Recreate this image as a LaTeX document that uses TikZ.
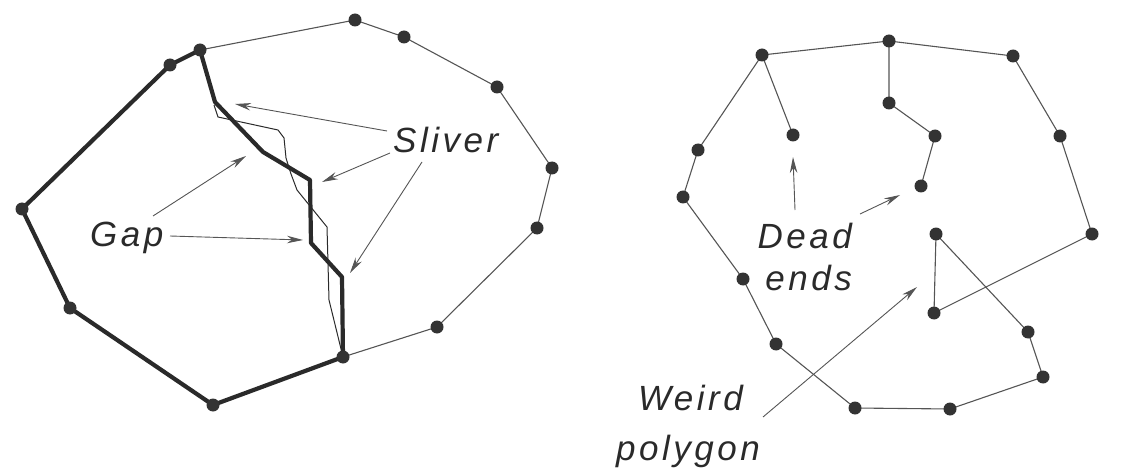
\documentclass[tikz,border=0pt]{standalone}
\usepackage{fontspec}
\setmainfont{Liberation Sans}
\newfontfamily\labelfont[LetterSpace=10]{Liberation Sans}
\usetikzlibrary{arrows.meta,backgrounds}
\definecolor{inkgray}{HTML}{2A2A2A}
\definecolor{dotgray}{HTML}{333333}
\definecolor{linegray}{HTML}{555555}
\definecolor{arrowgray}{HTML}{555555}
\begin{document}
\begin{tikzpicture}[x=1pt,y=-1pt,
  dot/.style={circle,fill=dotgray,inner sep=0pt,minimum size=13pt},
  thickline/.style={line width=4.2pt,draw=inkgray,line join=round,line cap=round},
  thinline/.style={line width=1.1pt,draw=linegray,line join=round},
  sliverline/.style={line width=1pt,draw=inkgray,line join=miter},
  ptr/.style={line width=0.9pt,draw=arrowgray,-{Stealth[length=16pt,width=7.5pt,fill=arrowgray]}},
  lbl/.style={font=\labelfont\itshape\fontsize{35}{42}\selectfont,text=inkgray,inner sep=0pt}
]
\useasboundingbox (0,0) rectangle (1124,473);

% ---------- left figure: dots ----------
\node[dot] (l1) at (170,65) {};
\node[dot] (l2) at (200,50) {};
\node[dot] (l3) at (355,20) {};
\node[dot] (l4) at (404,37) {};
\node[dot] (l5) at (497,87) {};
\node[dot] (l6) at (552,168) {};
\node[dot] (l7) at (537,228) {};
\node[dot] (l8) at (437,327) {};
\node[dot] (l9) at (343,357) {};
\node[dot] (l10) at (213,405) {};
\node[dot] (l11) at (70,308) {};
\node[dot] (l12) at (22,209) {};

% bend points of the thick boundary
\coordinate (k1) at (215,102);
\coordinate (k2) at (263,152);
\coordinate (k3) at (310,180);
\coordinate (k4) at (311,243);
\coordinate (k5) at (342,277);
% bend points of the thin (sliver) boundary
\coordinate (s0) at (214,105);
\coordinate (s1) at (218,117);
\coordinate (s2) at (278,130);
\coordinate (s3) at (284,138);
\coordinate (s4) at (286,158);
\coordinate (s5) at (291,174);
\coordinate (s6) at (297,190);
\coordinate (s7) at (327,227);
\coordinate (s8) at (329,300);

\begin{scope}[on background layer]
  \draw[thinline] (l2.center) -- (l3.center) -- (l4.center) -- (l5.center) -- (l6.center)
     -- (l7.center) -- (l8.center) -- (l9.center);
  \draw[sliverline] (s0) -- (s1) -- (s2) -- (s3) -- (s4) -- (s5) -- (s6) -- (s7) -- (s8) -- (l9.center);
  \draw[thickline] (l2.center) -- (k1) -- (k2) -- (k3) -- (k4) -- (k5) -- (l9.center)
     -- (l10.center) -- (l11.center) -- (l12.center) -- (l1.center) -- (l2.center);
\end{scope}

% labels
\node[lbl,anchor=base west] (sliver) at (393,153) {Sliver};
\node[lbl,anchor=base west] (gap) at (90,247) {Gap};

% arrows
\coordinate (sa1) at (387,131); \coordinate (st1) at (235,104);
\coordinate (sa2) at (390,153); \coordinate (st2) at (322,182);
\coordinate (sa3) at (422,162); \coordinate (st3) at (350,273);
\coordinate (ga1) at (153,216); \coordinate (gt1) at (246,156);
\coordinate (ga2) at (170,236); \coordinate (gt2) at (303,240);
\draw[ptr] (sa1) -- (st1);
\draw[ptr] (sa2) -- (st2);
\draw[ptr] (sa3) -- (st3);
\draw[ptr] (ga1) -- (gt1);
\draw[ptr] (ga2) -- (gt2);

% ---------- right figure ----------
\node[dot] (r1) at (683,197) {};
\node[dot] (r2) at (698,150) {};
\node[dot] (r3) at (762,55) {};
\node[dot] (r4) at (889,41) {};
\node[dot] (r5) at (1013,56) {};
\node[dot] (r6) at (1060,136) {};
\node[dot] (r7) at (1092,234) {};
\node[dot] (r8) at (934,313) {};
\node[dot] (r9) at (936,234) {};
\node[dot] (r10) at (1028,332) {};
\node[dot] (r11) at (1043,377) {};
\node[dot] (r12) at (950,409) {};
\node[dot] (r13) at (855,408) {};
\node[dot] (r14) at (776,344) {};
\node[dot] (r15) at (743,279) {};
\node[dot] (d1) at (793,135) {};
\node[dot] (d2) at (889,103) {};
\node[dot] (d3) at (935,136) {};
\node[dot] (d4) at (921,186) {};

\begin{scope}[on background layer]
  \draw[thinline] (r1.center) -- (r2.center) -- (r3.center) -- (r4.center) -- (r5.center)
     -- (r6.center) -- (r7.center) -- (r8.center) -- (r9.center) -- (r10.center)
     -- (r11.center) -- (r12.center) -- (r13.center) -- (r14.center) -- (r15.center) -- (r1.center);
  \draw[thinline] (r3.center) -- (d1.center);
  \draw[thinline] (r4.center) -- (d2.center) -- (d3.center) -- (d4.center);
\end{scope}

\node[lbl,anchor=base east] (dead) at (852,248) {Dead};
\node[lbl,anchor=base east] (ends) at (852,290) {ends};
\node[lbl,anchor=base east] (weird) at (743,410) {Weird};
\node[lbl,anchor=base east] (polygon) at (760,460) {polygon};

\coordinate (da1) at (795,210); \coordinate (dt1) at (793,157);
\coordinate (da2) at (860,214); \coordinate (dt2) at (900,195);
\coordinate (wa1) at (763,417); \coordinate (wt1) at (917,287);
\draw[ptr] (da1) -- (dt1);
\draw[ptr] (da2) -- (dt2);
\draw[ptr] (wa1) -- (wt1);
\end{tikzpicture}
\end{document}
